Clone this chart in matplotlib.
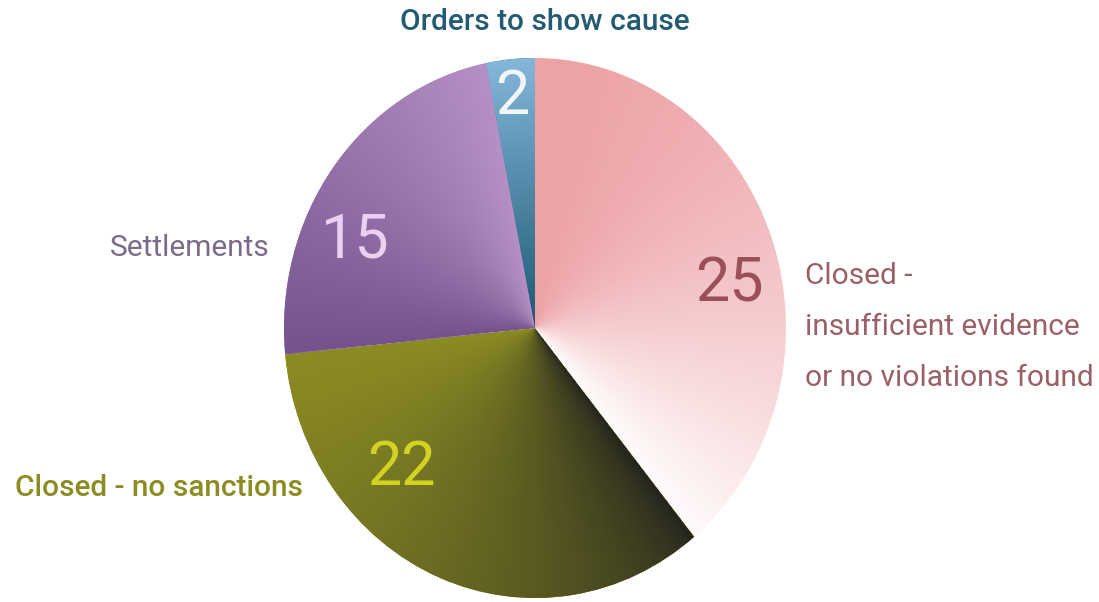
import numpy as np
import matplotlib

matplotlib.use("Agg")
import matplotlib.pyplot as plt
from matplotlib.colors import to_rgb

# data
labels = [
    "Closed -\ninsufficient evidence\nor no violations found",
    "Closed - no sanctions",
    "Settlements",
    "Orders to show cause",
]
counts = [25, 22, 15, 2]

W, H = 1099, 602
CX, CY, RX, RY = 535, 328, 251, 270

# gradient per wedge: colour at the clockwise start edge, colour at the end edge, easing power
grads = [
    ("#eda2a6", "#fffbfb", 1.6, "angle"),
    ("#1f1f1f", "#8c8c24", 0.55, "angle"),
    ("#74528c", "#b490c6", 1.0, "angle"),
    ("#84b6d8", "#1b5873", 1.0, "radial"),
]

fig = plt.figure(figsize=(W / 100, H / 100), dpi=100)
ax = fig.add_axes([(CX - RX) / W, (H - CY - RY) / H, 2 * RX / W, 2 * RY / H])
wedges, _ = ax.pie(counts, startangle=90, counterclock=False, radius=1,
                   colors=[g[1] for g in grads], wedgeprops=dict(linewidth=0))
ax.set_xlim(-1, 1)
ax.set_ylim(-1, 1)
ax.set_aspect("auto")
ax.axis("off")

n = 500
xs = np.linspace(-1, 1, n)
gx, gy = np.meshgrid(xs, xs)
ang = np.degrees(np.arctan2(gy, gx))
rad = np.hypot(gx, gy)

start = 90.0
for w, v, (c0, c1, pw, mode) in zip(wedges, counts, grads):
    span = 360.0 * v / sum(counts)
    if mode == "angle":
        # 0 at the clockwise start edge, 1 at the end edge
        t = ((start - ang) % 360) / span
    else:
        t = 1 - rad
    t = np.clip(t, 0, 1) ** pw
    t = t[..., None]
    img = (1 - t) * np.array(to_rgb(c0)) + t * np.array(to_rgb(c1))
    im = ax.imshow(img, extent=(-1, 1, -1, 1), origin="lower", aspect="auto",
                   interpolation="bilinear", zorder=2)
    im.set_clip_path(w)
    start -= span

# overlay in pixel coordinates for the text
ov = fig.add_axes([0, 0, 1, 1])
ov.set_xlim(0, W)
ov.set_ylim(H, 0)
ov.axis("off")
ov.patch.set_alpha(0)

font = "Roboto"
num_size = 44
ov.text(730, 285, str(counts[0]), color="#9a5058", fontsize=num_size, ha="center", va="center", family=font)
ov.text(401, 468, str(counts[1]), color="#d2d222", fontsize=num_size, ha="center", va="center", family=font)
ov.text(355, 240, str(counts[2]), color="#ecd0f2", fontsize=num_size, ha="center", va="center", family=font)
ov.text(512, 97, str(counts[3]), color="#f0f6fa", fontsize=num_size, ha="center", va="center", family=font)

lab_size = 21.5
ov.text(805, 327, labels[0], color="#9b5f66", fontsize=lab_size, ha="left", va="center",
        family=font, linespacing=2.05)
ov.text(15, 488, labels[1], color="#8c8c22", fontsize=lab_size, ha="left", va="center",
        family=font, fontweight="medium")
ov.text(270, 248, labels[2], color="#7b6a8a", fontsize=lab_size, ha="right", va="center", family=font)
ov.text(545, 22, labels[3], color="#235b72", fontsize=lab_size, ha="center", va="center",
        family=font, fontweight="medium")

fig.savefig("out.png", dpi=100)
